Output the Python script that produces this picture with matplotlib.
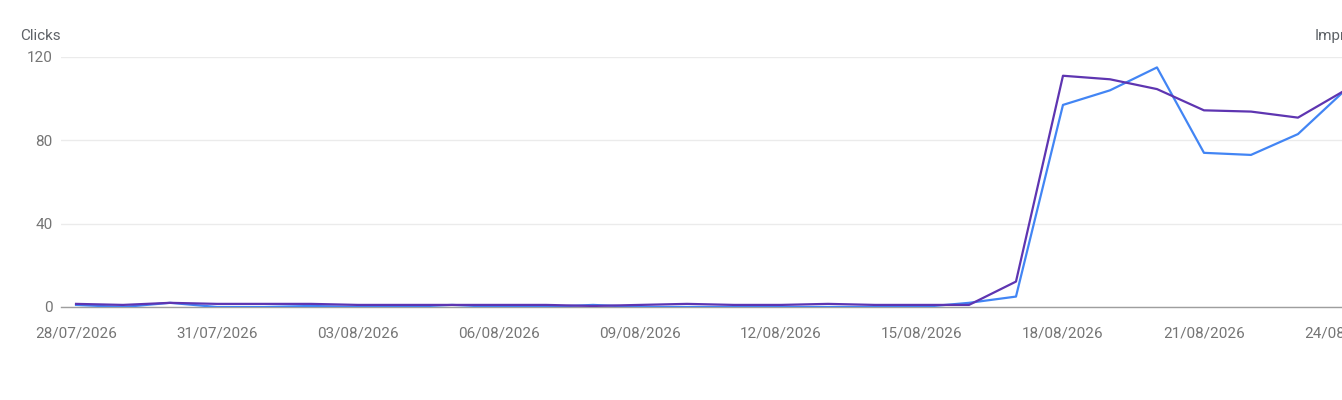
import numpy as np
import pandas as pd
from matplotlib import pyplot as plt

plt.rcParams['font.family'] = ['Roboto', 'DejaVu Sans']

# data (28/07/2026 .. 24/08/2026)
dates = pd.date_range('2026-07-28', '2026-08-24', freq='D')
clicks = [1, 0, 2, 0, 0, 0.5, 0, 0, 1, 0, 0, 1, 0, 0, 0, 0, 0, 0, 0,
          2, 5, 97, 104, 115, 74, 73, 83, 104]
impressions = [15, 10, 20, 15, 15, 15, 10, 10, 10, 10, 10, 5, 10, 15, 10, 10, 15, 10, 10,
               10, 122, 1110, 1093, 1046, 944, 938, 909, 1040]

grey_text = '#757575'
fig = plt.figure(figsize=(13.42, 4.0), dpi=100)
ax = fig.add_axes([61 / 1342, 93 / 400, 1299 / 1342, 250 / 400])
ax2 = ax.twinx()

x = np.arange(len(dates))
ax.plot(x, clicks, color='#4285F4', lw=1.6, solid_joinstyle='round', zorder=3)
ax2.plot(x, impressions, color='#5E35B1', lw=1.6, solid_joinstyle='round')

ax.set_xlim(-0.32, len(dates) - 1 + 0.32)
ax.set_ylim(0, 120)
ax2.set_ylim(0, 1200)

ax.set_yticks([0, 40, 80, 120])
ax.grid(axis='y', color='#ebebeb', lw=1)
ax.set_axisbelow(True)
ticks = x[::3]
ax.set_xticks(ticks)
ax.set_xticklabels([dates[i].strftime('%d/%m/%Y') for i in ticks])
ax.tick_params(axis='both', length=0, labelsize=11, colors=grey_text)
ax.tick_params(axis='x', pad=14)
ax.tick_params(axis='y', pad=6)
ax2.set_yticks([])

for a in (ax, ax2):
    for s in a.spines.values():
        s.set_visible(False)
ax.spines['bottom'].set_visible(True)
ax.spines['bottom'].set_color('#9e9e9e')
ax.spines['bottom'].set_linewidth(1)

fig.text(20 / 1342, 1 - 36 / 400, 'Clicks', fontsize=11, color='#5f6368', va='center', ha='left')
fig.text(1315 / 1342, 1 - 36 / 400, 'Impressions', fontsize=11, color='#5f6368', va='center', ha='left')

fig.savefig('out.png', dpi=100)
